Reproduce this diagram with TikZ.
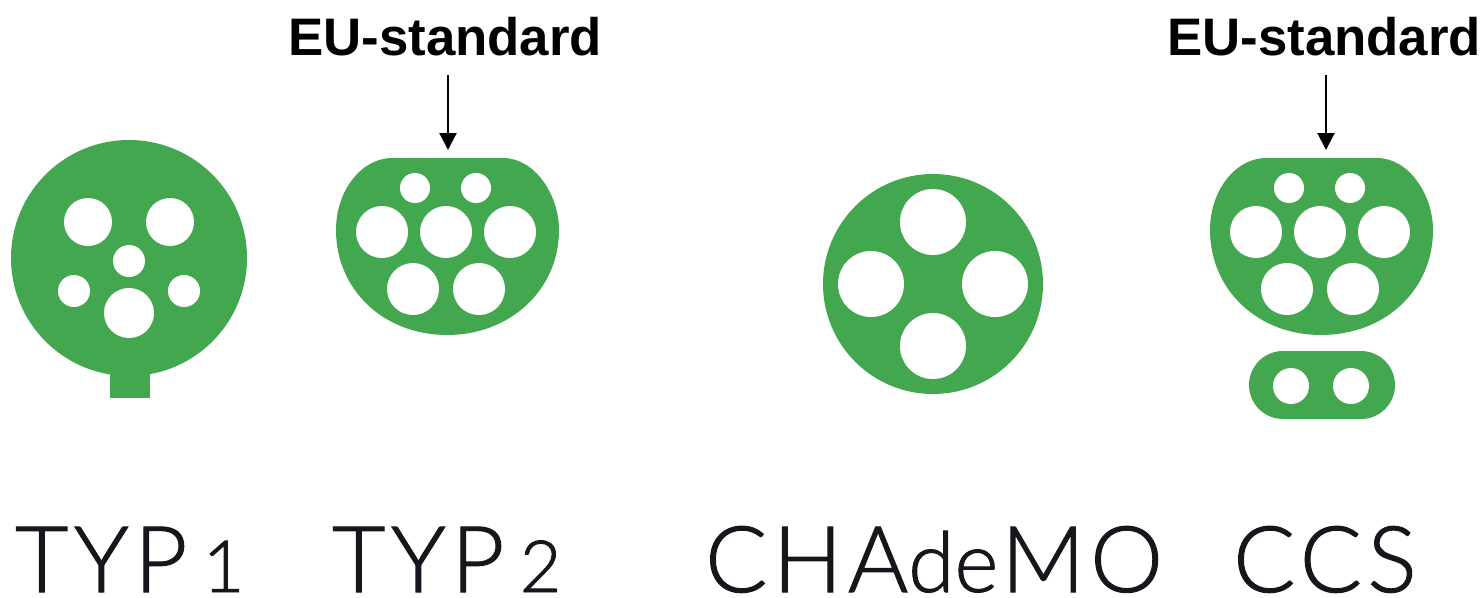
\documentclass[tikz,border=0pt]{standalone}
\usepackage{fontspec}
\setmainfont{Lato Light}
\newfontfamily\eufont{Liberation Sans}
\usetikzlibrary{arrows.meta}
\definecolor{plug}{HTML}{43A74F}
\definecolor{ink}{HTML}{15171C}
\newfontfamily\capsfont[LetterSpace=6,FakeBold=1.2]{Lato Light}
\newfontfamily\lowfont[FakeBold=1.2]{Lato Light}
\newcommand{\bigc}{\fontsize{92}{92}\capsfont}
\newcommand{\smallc}{\fontsize{72}{72}\capsfont}
\newcommand{\lowc}{\fontsize{84}{84}\lowfont}
\tikzset{
  body/.style={fill=plug,draw=none},
  hole/.style={fill=white,draw=none},
  eulabel/.style={inner sep=0pt,anchor=base west,font=\eufont\bfseries\fontsize{52.8}{52.8}\selectfont,text=black},
  plugname/.style={inner sep=0pt,anchor=base west,text=ink},
  marker/.style={-{Triangle[width=17pt,length=17pt]},line width=2.2pt,black}
}
\begin{document}
\begin{tikzpicture}[x=1pt,y=-1pt]
\useasboundingbox (0,0) rectangle (1483,597);
% TYP 1
\fill[body] (129,258) circle[radius=118];
\fill[body] (110,350) rectangle (150,398);
\fill[hole] (88,222) circle[radius=24] (170,222) circle[radius=24] (129,261) circle[radius=16]
  (74,291) circle[radius=16] (184,291) circle[radius=16] (129,313) circle[radius=25];
% TYP 2
\fill[body] (392,158) -- (503,158) .. controls (535,158) and (559,195) .. (559,230)
  .. controls (559,290) and (510,335) .. (447,335) .. controls (384,335) and (336,290) .. (336,230)
  .. controls (336,190) and (362,158) .. (392,158) -- cycle;
\fill[hole] (415,188) circle[radius=15] (476,188) circle[radius=15]
  (382,232) circle[radius=26] (446,232) circle[radius=26] (510,232) circle[radius=26]
  (413,289) circle[radius=26] (479,289) circle[radius=26];
% CHAdeMO
\fill[body] (933,284) circle[radius=110];
\fill[hole] (933,222) circle[radius=33] (871,284) circle[radius=33] (995,284) circle[radius=33] (933,346) circle[radius=33];
% CCS
\fill[body] (1266,158) -- (1377,158) .. controls (1409,158) and (1433,195) .. (1433,230)
  .. controls (1433,290) and (1385,335) .. (1321,335) .. controls (1258,335) and (1210,290) .. (1210,230)
  .. controls (1210,190) and (1236,158) .. (1266,158) -- cycle;
\fill[hole] (1289,188) circle[radius=15] (1350,188) circle[radius=15]
  (1256,232) circle[radius=26] (1320,232) circle[radius=26] (1384,232) circle[radius=26]
  (1287,289) circle[radius=26] (1353,289) circle[radius=26];
\fill[body,rounded corners=34pt] (1249,351) rectangle (1395,419);
\fill[hole] (1291,386) circle[radius=18] (1351,386) circle[radius=18];
% labels
\node[eulabel] (eua) at (288,55) {EU-standard};
\node[eulabel] (eub) at (1167,55) {EU-standard};
\coordinate (ta) at (448,150);
\coordinate (tb) at (1326,150);
\coordinate (sa) at (448,75);
\coordinate (sb) at (1326,75);
\draw[marker] (sa) -- (ta);
\draw[marker] (sb) -- (tb);
\node[plugname] (n1) at (15,592) {\bigc TYP\,\smallc 1};
\node[plugname] (n2) at (332,592) {\bigc TYP\,\smallc 2};
\node[plugname] (n3) at (705,592) {\bigc CHA{\lowc de}\bigc\kern3pt MO};
\node[plugname] (n4) at (1233,592) {\bigc CCS};
\end{tikzpicture}
\end{document}
